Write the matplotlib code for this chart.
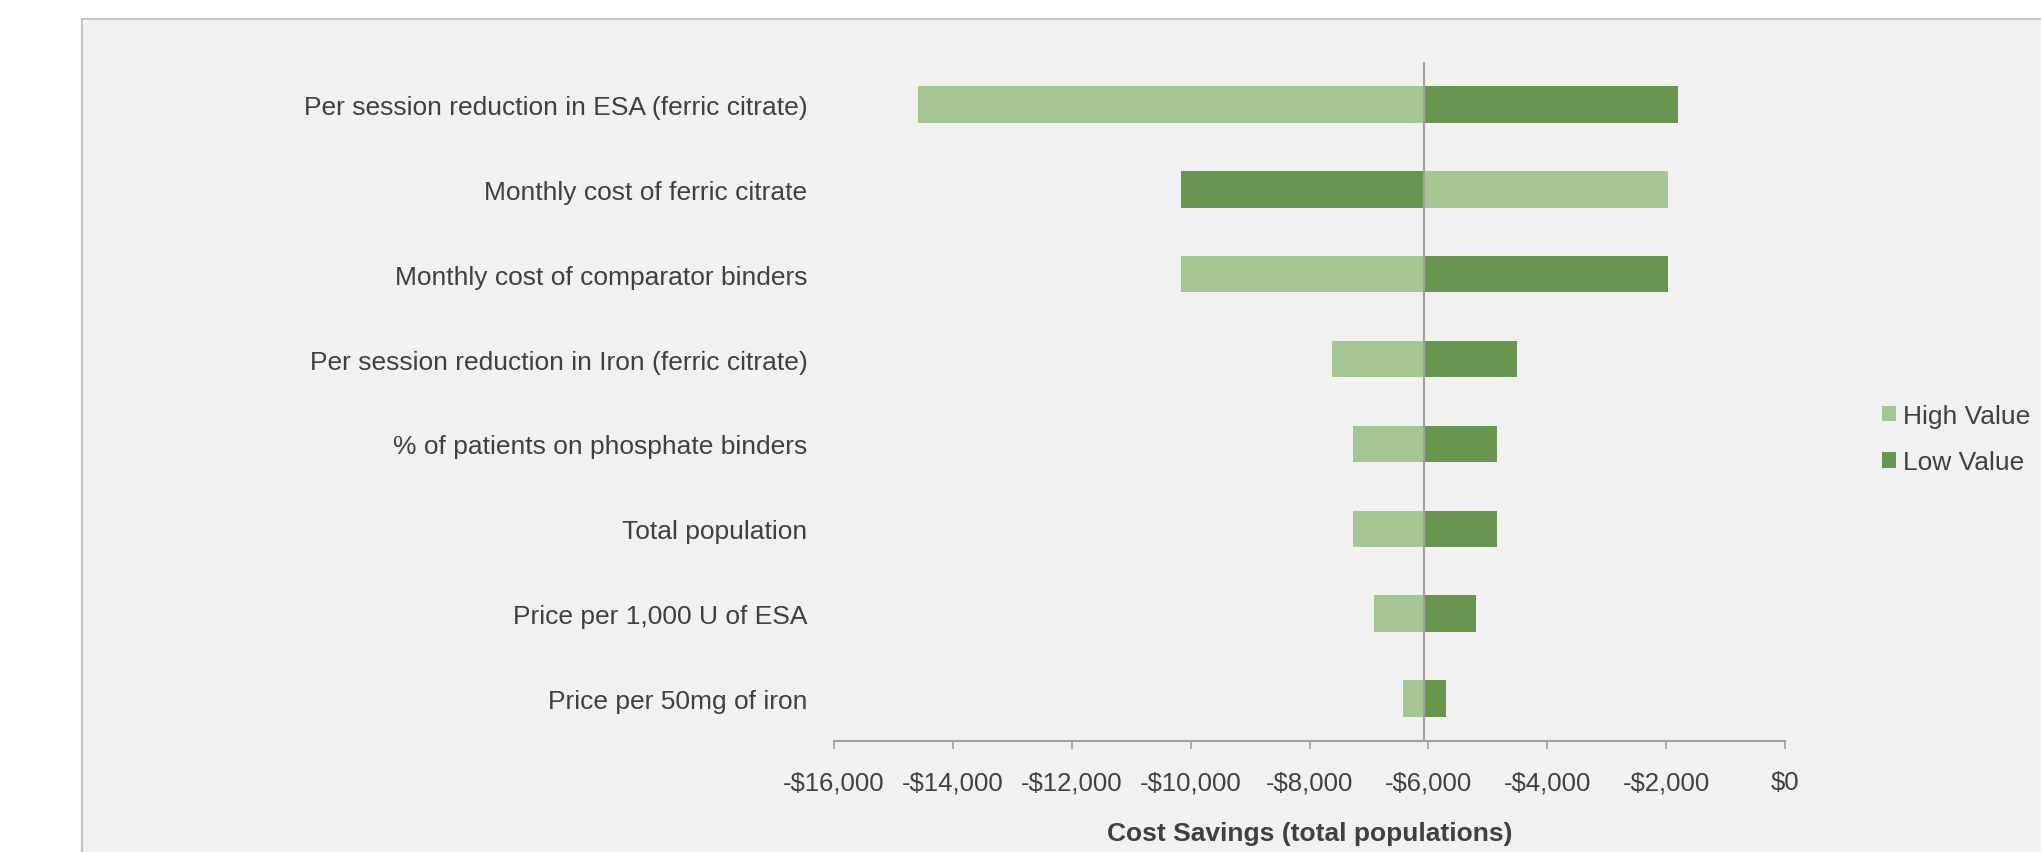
import matplotlib.pyplot as plt
from matplotlib.patches import Rectangle, Patch

# === Data ===
params = [
    "Per session reduction in ESA (ferric citrate)",
    "Monthly cost of ferric citrate",
    "Monthly cost of comparator binders",
    "Per session reduction in Iron (ferric citrate)",
    "% of patients on phosphate binders",
    "Total population",
    "Price per 1,000 U of ESA",
    "Price per 50mg of iron",
]
high_value = [-14590, -1969, -10162, -7615, -7275, -7275, -6915, -6421]
low_value = [-1796, -10162, -1969, -4504, -4846, -4846, -5206, -5699]
base_case = -6070
xticks = [-16000, -14000, -12000, -10000, -8000, -6000, -4000, -2000, 0]
xtick_labels = ["-$16,000", "-$14,000", "-$12,000", "-$10,000", "-$8,000",
                "-$6,000", "-$4,000", "-$2,000", "$0"]

# === Style ===
light_green = "#A5C594"
dark_green = "#68964F"
text_color = "#404040"
axis_gray = "#A0A0A0"
plt.rcParams["font.family"] = ["Liberation Sans", "DejaVu Sans"]

W, H = 2041, 853
fig = plt.figure(figsize=(W / 100, H / 100), dpi=100)
fig.patch.set_facecolor("white")

# chart area panel (cut off at right and bottom like the reference)
fig.patches.append(Rectangle((82 / W, -0.05), 1.0, 1 - 20 / H + 0.05,
                             transform=fig.transFigure, facecolor="#F1F1F1",
                             edgecolor="#C4C4C4", linewidth=1.5, zorder=-1))

ax = fig.add_axes([834 / W, 1 - 742 / H, (1785 - 834) / W, (742 - 63) / H])
ax.set_facecolor("none")
ax.set_zorder(2)

y = list(range(len(params)))
ax.barh(y, [v - base_case for v in high_value], left=base_case, height=0.43,
        color=light_green, zorder=2)
ax.barh(y, [v - base_case for v in low_value], left=base_case, height=0.43,
        color=dark_green, zorder=2)
ax.axvline(base_case, color=axis_gray, linewidth=1.5, zorder=3)

ax.set_xlim(-16000, 0)
ax.set_ylim(len(params) - 0.5, -0.5)
ax.set_xticks(xticks)
ax.set_xticklabels(xtick_labels)
ax.set_yticks(y)
ax.set_yticklabels(params)

for s in ["top", "right", "left"]:
    ax.spines[s].set_visible(False)
ax.spines["bottom"].set_color(axis_gray)
ax.spines["bottom"].set_linewidth(1.5)
ax.tick_params(axis="x", direction="out", length=6, width=1.2, color=axis_gray,
               labelsize=18.5, labelcolor=text_color, pad=15)
ax.tick_params(axis="y", length=0, labelsize=19, labelcolor=text_color, pad=19)

ax.set_xlabel("Cost Savings (total populations)", fontsize=19,
              fontweight="bold", color=text_color, labelpad=19)

handles = [Patch(facecolor=light_green, label="High Value"),
           Patch(facecolor=dark_green, label="Low Value")]
leg = fig.legend(handles=handles, loc="center left",
                 bbox_to_anchor=(1882 / W, 1 - 440 / H), frameon=False,
                 fontsize=19, labelcolor=text_color, handlelength=0.53,
                 handleheight=0.53, handletextpad=0.25, labelspacing=0.85,
                 borderpad=0, borderaxespad=0)
leg.set_zorder(3)

fig.savefig("out.png", dpi=100, facecolor="white")
